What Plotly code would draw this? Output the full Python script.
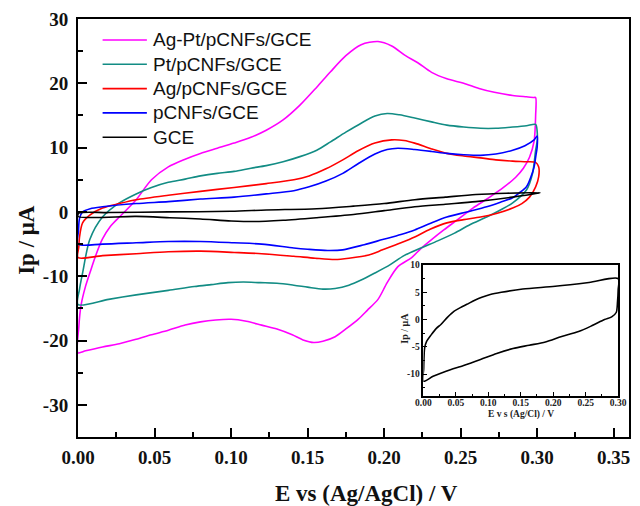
import plotly.graph_objects as go

# ---------------- data ----------------
names = ["Ag-Pt/pCNFs/GCE", "Pt/pCNFs/GCE", "Ag/pCNFs/GCE", "pCNFs/GCE", "GCE"]
colors = ["#FF00FF", "#128C84", "#FF0000", "#0000FF", "#000000"]

agpt_E = [0, 0.0005, 0.002, 0.005, 0.008, 0.012, 0.016, 0.021, 0.027, 0.038, 0.048, 0.059, 0.070, 0.080,
          0.091, 0.102, 0.113, 0.123, 0.134, 0.145, 0.156, 0.165, 0.175, 0.185, 0.196, 0.205, 0.214, 0.222,
          0.231, 0.241, 0.252, 0.262, 0.272, 0.284, 0.293, 0.298,
          0.299, 0.299, 0.298, 0.295, 0.291, 0.286, 0.278, 0.269, 0.258, 0.248, 0.239, 0.231, 0.224, 0.218,
          0.209, 0.202, 0.196, 0.189, 0.183, 0.175, 0.168, 0.160, 0.154, 0.147, 0.140, 0.130, 0.120, 0.110,
          0.100, 0.090, 0.080, 0.070, 0.059, 0.048, 0.038, 0.027, 0.016, 0.005, 0.0]
agpt_I = [-21.9, -18.0, -14.5, -11.5, -9.3, -6.5, -4.2, -2.3, -0.8, 1.9, 5.0, 7.0, 8.2, 9.1,
          9.9, 10.7, 11.6, 12.7, 14.3, 16.6, 19.4, 21.8, 24.3, 26.0, 26.5, 25.8, 24.3, 23.2,
          21.7, 20.7, 20.0, 19.2, 18.6, 18.1, 17.9, 17.8,
          17.8, 15.0, 11.0, 8.5, 6.8, 5.4, 3.8, 2.3, 0.6, -1.2, -2.8, -4.3, -5.7, -7.1,
          -8.5, -11.0, -13.6, -15.3, -16.7, -18.2, -19.4, -20.1, -20.3, -19.9, -19.1, -18.2, -17.6, -17.0,
          -16.7, -16.8, -17.1, -17.6, -18.4, -19.1, -19.8, -20.5, -21.0, -21.6, -21.9]

pt_E = [0, 0.001, 0.003, 0.0077, 0.016, 0.027, 0.038, 0.048, 0.059, 0.070, 0.080, 0.091, 0.102, 0.113,
        0.123, 0.134, 0.145, 0.156, 0.165, 0.175, 0.185, 0.194, 0.202, 0.210, 0.220, 0.231, 0.241, 0.252,
        0.263, 0.273, 0.284, 0.293, 0.299,
        0.300, 0.300, 0.299, 0.297, 0.293, 0.284, 0.276, 0.267, 0.256, 0.246, 0.235, 0.224, 0.213, 0.204,
        0.194, 0.185, 0.177, 0.168, 0.160, 0.150, 0.141, 0.130, 0.119, 0.108, 0.098, 0.087, 0.076, 0.059,
        0.038, 0.020, 0.0]
pt_I = [-14.4, -12.0, -9.5, -4.3, -0.8, 1.4, 2.8, 3.8, 4.6, 5.1, 5.6, 6.0, 6.3, 6.8,
        7.2, 7.8, 8.6, 9.6, 10.9, 12.4, 13.8, 14.9, 15.3, 15.1, 14.6, 14.0, 13.5, 13.2,
        13.0, 13.0, 13.2, 13.4, 13.6,
        12.5, 11.0, 9.6, 6.0, 3.4, 1.4, 0.3, -0.8, -2.0, -3.3, -4.5, -5.6, -6.8, -8.2,
        -9.5, -10.6, -11.4, -11.9, -12.0, -11.7, -11.4, -11.1, -11.0, -10.9, -11.0, -11.3, -11.6, -12.2,
        -12.9, -13.6, -14.4]

ag_E = [0, 0.0005, 0.001, 0.003, 0.0077, 0.016, 0.027, 0.038, 0.059, 0.080, 0.102, 0.123, 0.141, 0.151,
        0.162, 0.173, 0.183, 0.194, 0.205, 0.213, 0.220, 0.231, 0.241, 0.252, 0.263, 0.273, 0.284, 0.293,
        0.299,
        0.301, 0.301, 0.299, 0.295, 0.290, 0.284, 0.274, 0.263, 0.252, 0.241, 0.230, 0.220, 0.211, 0.199,
        0.190, 0.177, 0.168, 0.155, 0.141, 0.120, 0.102, 0.080, 0.059, 0.038, 0.016, 0.0]
ag_I = [-7.1, -5.5, -3.9, -1.7, -0.5, 0.6, 1.3, 1.9, 2.6, 3.2, 3.8, 4.4, 5.0, 5.6,
        6.7, 8.1, 9.5, 10.7, 11.2, 11.1, 10.7, 9.8, 9.1, 8.7, 8.4, 8.1, 7.9, 7.8,
        7.7,
        7.0, 5.5, 3.9, 2.3, 1.3, 0.6, -0.2, -0.8, -1.2, -1.7, -2.7, -3.9, -4.8, -5.9,
        -6.7, -7.2, -7.4, -7.2, -6.9, -6.5, -6.3, -6.1, -6.2, -6.5, -6.8, -7.1]

pcnf_E = [0, 0.0003, 0.001, 0.003, 0.008, 0.016, 0.038, 0.059, 0.080, 0.102, 0.123, 0.141, 0.151, 0.162,
          0.173, 0.183, 0.194, 0.202, 0.209, 0.220, 0.231, 0.241, 0.252, 0.263, 0.273, 0.284, 0.292, 0.298,
          0.300,
          0.300, 0.299, 0.298, 0.296, 0.293, 0.288, 0.284, 0.276, 0.267, 0.254, 0.241, 0.230, 0.220, 0.211,
          0.199, 0.187, 0.173, 0.163, 0.150, 0.141, 0.120, 0.102, 0.080, 0.059, 0.038, 0.016, 0.0]
pcnf_I = [-5.0, -3.0, -1.0, 0.0, 0.5, 0.8, 1.3, 1.6, 2.0, 2.3, 2.8, 3.3, 3.9, 4.8,
          6.0, 7.5, 9.0, 9.7, 9.9, 9.7, 9.4, 9.1, 8.9, 8.8, 9.0, 9.6, 10.3, 11.2,
          11.8,
          10.1, 8.5, 7.0, 5.5, 3.9, 2.9, 2.2, 1.5, 0.8, 0.0, -0.8, -1.8, -2.8, -3.5,
          -4.3, -5.1, -5.9, -6.0, -5.8, -5.6, -5.0, -4.8, -4.6, -4.6, -4.8, -5.0, -5.0]

gce_E = [0, 0.0005, 0.020, 0.059, 0.100, 0.123, 0.156, 0.180, 0.200, 0.220, 0.240, 0.260, 0.280, 0.302,
         0.300, 0.284, 0.260, 0.240, 0.220, 0.200, 0.180, 0.156, 0.134, 0.115, 0.100, 0.080, 0.060, 0.038, 0.0]
gce_I = [-0.7, -0.2, -0.1, 0.0, 0.1, 0.3, 0.5, 0.9, 1.3, 1.9, 2.3, 2.7, 2.9, 3.0,
         2.9, 2.3, 1.6, 1.2, 0.8, 0.2, -0.4, -0.9, -1.3, -1.5, -1.4, -1.1, -0.9, -0.7, -0.7]

inset_E = [0, 0.0005, 0.001, 0.002, 0.005, 0.012, 0.020, 0.027, 0.037, 0.047, 0.057, 0.067, 0.080, 0.090,
           0.103, 0.120, 0.153, 0.203, 0.255, 0.300,
           0.300, 0.299, 0.297, 0.290, 0.279, 0.260, 0.239, 0.213, 0.188, 0.163, 0.138, 0.113, 0.088, 0.062,
           0.036, 0.015, 0.0]
inset_I = [-11.3, -9.0, -7.0, -5.2, -4.0, -2.8, -1.6, -0.9, 0.4, 1.5, 2.2, 2.8, 3.6, 4.1,
           4.6, 5.0, 5.6, 6.1, 6.8, 7.5,
           5.5, 3.3, 1.3, 0.5, 0.0, -1.1, -2.2, -3.1, -4.1, -4.7, -5.3, -6.2, -7.3, -8.4,
           -9.4, -10.4, -11.3]

x_ticks = [0.00, 0.05, 0.10, 0.15, 0.20, 0.25, 0.30, 0.35]
y_ticks = [-30, -20, -10, 0, 10, 20, 30]
inset_x_ticks = [0.00, 0.05, 0.10, 0.15, 0.20, 0.25, 0.30]
inset_y_ticks = [-10, -5, 0, 5, 10]

series_E = [agpt_E, pt_E, ag_E, pcnf_E, gce_E]
series_I = [agpt_I, pt_I, ag_I, pcnf_I, gce_I]

# ---------------- figure ----------------
SERIF = "Liberation Serif"
SANS = "Liberation Sans"

W, H = 640, 506
ML, MR, MT, MB = 78, 2, 19, 69
PW, PH = W - ML - MR, H - MT - MB


def px_x(p):  # pixel -> paper x
    return (p - ML) / PW


def px_y(p):  # pixel -> paper y
    return (H - MB - p) / PH


fig = go.Figure()
for n, c, ex, iy in zip(names, colors, series_E, series_I):
    fig.add_trace(go.Scatter(x=ex, y=iy, mode="lines", name=n, showlegend=False,
                             line=dict(color=c, width=1.6, shape="spline", smoothing=0.8)))

fig.add_trace(go.Scatter(x=inset_E, y=inset_I, mode="lines", showlegend=False,
                         line=dict(color="black", width=1.6, shape="spline", smoothing=0.8),
                         xaxis="x2", yaxis="y2"))

# legend (drawn as layout items, built from the series names/colours)
shapes = []
annotations = []
for k, (n, c) in enumerate(zip(names, colors)):
    yy = px_y(40 + 24.3 * k)
    shapes.append(dict(type="line", xref="paper", yref="paper",
                       x0=px_x(103), x1=px_x(148), y0=yy, y1=yy,
                       line=dict(color=c, width=1.6)))
    annotations.append(dict(text=n, xref="paper", yref="paper", x=px_x(152), y=yy,
                            xanchor="left", yanchor="middle", showarrow=False,
                            font=dict(family=SANS, size=19, color="#111")))

annotations += [
    dict(text="E vs (Ag/AgCl) / V", xref="paper", yref="paper", x=px_x(371), y=px_y(494),
         xanchor="center", yanchor="middle", showarrow=False,
         font=dict(family=SERIF, size=23, color="#111", weight="bold")),
    dict(text="Ip / μA", xref="paper", yref="paper", x=px_x(26), y=px_y(240),
         xanchor="center", yanchor="middle", showarrow=False, textangle=-90,
         font=dict(family=SERIF, size=23, color="#111", weight="bold")),
    dict(text="E v s (Ag/Cl) / V", xref="paper", yref="paper", x=px_x(528), y=px_y(414),
         xanchor="center", yanchor="middle", showarrow=False,
         font=dict(family=SERIF, size=9.5, color="#222", weight="bold")),
    dict(text="Ip / μA", xref="paper", yref="paper", x=px_x(409), y=px_y(328),
         xanchor="center", yanchor="middle", showarrow=False, textangle=-90,
         font=dict(family=SERIF, size=10, color="#222", weight="bold")),
]

axis_common = dict(showgrid=False, zeroline=False, showline=True, linecolor="black",
                   mirror=True, ticks="inside", tickcolor="black")

fig.update_layout(
    width=W, height=H,
    margin=dict(l=ML, r=MR, t=MT, b=MB),
    paper_bgcolor="white", plot_bgcolor="white",
    showlegend=False,
    xaxis=dict(**axis_common, range=[0, 0.36], domain=[0, 1],
               tickvals=x_ticks, ticktext=[f"{v:.2f}" for v in x_ticks],
               ticklen=9, tickwidth=2, linewidth=2,
               minor=dict(ticks="inside", dtick=0.025, tick0=0, ticklen=5, tickwidth=2, tickcolor="black"),
               tickfont=dict(family=SERIF, size=19, color="#111", weight="bold"),
               ticklabelstandoff=2),
    yaxis=dict(**axis_common, range=[-35, 30], domain=[0, 1],
               tickvals=y_ticks, ticktext=[str(v) for v in y_ticks],
               ticklen=9, tickwidth=2, linewidth=2,
               minor=dict(ticks="inside", dtick=5, tick0=0, ticklen=5, tickwidth=2, tickcolor="black"),
               tickfont=dict(family=SERIF, size=19, color="#111", weight="bold"),
               ticklabelstandoff=4),
    xaxis2=dict(**axis_common, range=[0, 0.30], domain=[px_x(429), px_x(627)], anchor="y2",
                tickvals=inset_x_ticks, ticktext=[f"{v:.2f}" for v in inset_x_ticks],
                ticklen=4, tickwidth=1, linewidth=1.5,
                minor=dict(ticks="inside", dtick=0.025, tick0=0, ticklen=2, tickwidth=1, tickcolor="black"),
                tickfont=dict(family=SERIF, size=9.5, color="#222", weight="bold"),
                ticklabelstandoff=-3),
    yaxis2=dict(**axis_common, range=[-14, 10], domain=[px_y(396), px_y(265)], anchor="x2",
                tickvals=inset_y_ticks, ticktext=[str(v) for v in inset_y_ticks],
                ticklen=4, tickwidth=1, linewidth=1.5,
                minor=dict(ticks="inside", dtick=2.5, tick0=0, ticklen=2, tickwidth=1, tickcolor="black"),
                tickfont=dict(family=SERIF, size=9.5, color="#222", weight="bold"),
                ticklabelstandoff=0),
    shapes=shapes,
    annotations=annotations,
)

fig.write_html("out.html")
